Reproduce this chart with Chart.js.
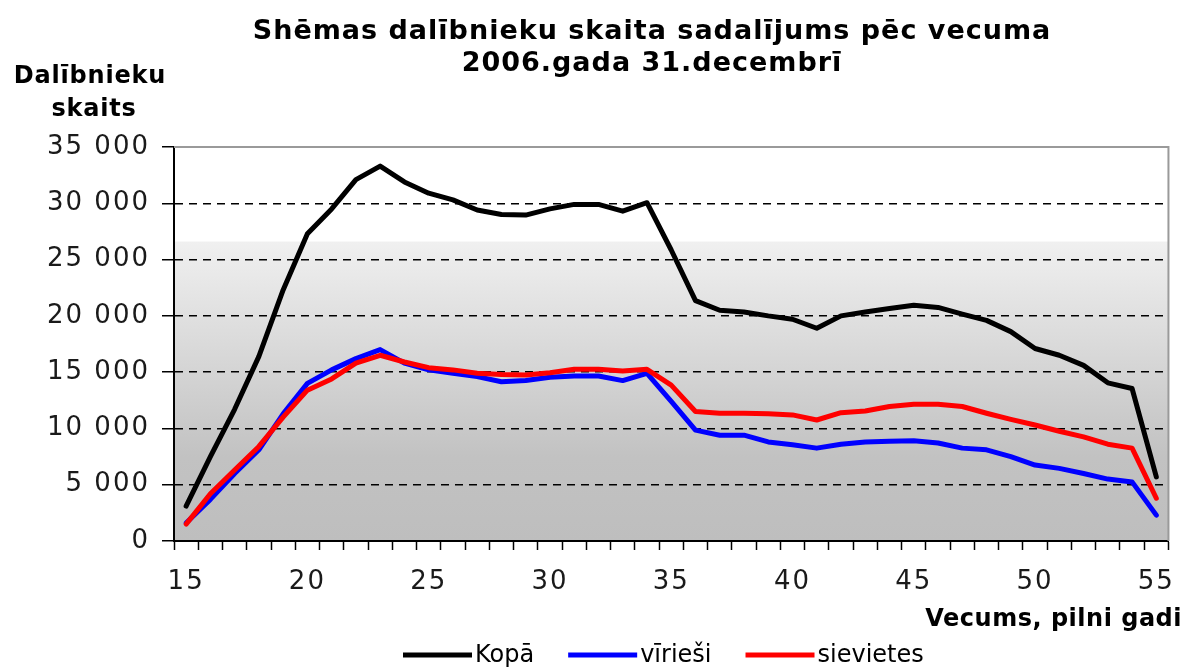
<!doctype html>
<html>
<head>
<meta charset="utf-8">
<title>Shēmas dalībnieku skaita sadalījums pēc vecuma</title>
<script src="https://cdn.jsdelivr.net/npm/chart.js@4.4.1/dist/chart.umd.min.js"></script>
<style>
  body { margin: 0; background: #fff; }
  canvas { display: block; }
</style>
</head>
<body>
<canvas id="canvas" width="1192" height="670"></canvas>
<script>
// vecums, pilni gadi
var ages = [15, 16, 17, 18, 19, 20, 21, 22, 23, 24, 25, 26, 27, 28, 29, 30, 31, 32, 33, 34, 35,
            36, 37, 38, 39, 40, 41, 42, 43, 44, 45, 46, 47, 48, 49, 50, 51, 52, 53, 54, 55];
var kopa = [3100, 7500, 11700, 16400, 22300, 27300, 29500, 32100, 33300, 31900, 30900, 30300, 29400, 29000,
            28950, 29500, 29900, 29900, 29300, 30050, 25850, 21350, 20500, 20350, 20000, 19700, 18900,
            20000, 20350, 20650, 20950, 20750, 20150, 19600, 18600, 17100, 16500, 15600, 14050, 13550, 5700];
var virziesi = [1600, 3700, 6000, 8100, 11300, 14000, 15200, 16200, 17000, 15800, 15200, 14900, 14600, 14150,
            14250, 14550, 14650, 14650, 14250, 14900, 12400, 9850, 9400, 9400, 8800, 8550, 8250,
            8600, 8800, 8850, 8900, 8700, 8250, 8100, 7500, 6750, 6450, 6000, 5500, 5250, 2300];
var sievietes = [1500, 4200, 6300, 8400, 11000, 13400, 14400, 15800, 16500, 15900, 15400, 15200, 14900, 14800,
            14750, 14950, 15250, 15250, 15100, 15250, 13850, 11500, 11350, 11350, 11300, 11200, 10750,
            11400, 11550, 11950, 12150, 12150, 11950, 11350, 10800, 10300, 9750, 9250, 8600, 8250, 3800];
var seriesNames = ['Kopā', 'vīrieši', 'sievietes'];
var seriesColors = ['#000000', '#0000ff', '#ff0000'];
var yMax = 35000;
var yStep = 5000;

var titleLines = ['Shēmas dalībnieku skaita sadalījums pēc vecuma', '2006.gada 31.decembrī'];
var yTitle = ['Dalībnieku', 'skaits'];
var xTitle = 'Vecums, pilni gadi';

var FONT = '"DejaVu Sans", sans-serif';

function fmt(v) {
  return String(v).replace(/\B(?=(\d{3})+(?!\d))/g, ' ');
}

// pelēkais fons zīmējuma laukumā + rāmis augšā un pa labi
var backgroundPlugin = {
  id: 'bg',
  beforeUpdate: function(chart) { chart.ctx.letterSpacing = '2px'; },
  beforeDraw: function(chart) {
    var c = chart.ctx, a = chart.chartArea;
    c.letterSpacing = '2px';
    c.save();
    var y0 = a.top + (a.bottom - a.top) * 0.24;
    c.fillStyle = '#ffffff';
    c.fillRect(a.left, a.top, a.right - a.left, y0 - a.top);
    var g = c.createLinearGradient(0, y0, 0, a.bottom);
    g.addColorStop(0, '#f0f0f0');
    g.addColorStop(0.72, '#c2c2c2');
    g.addColorStop(1, '#bebebe');
    c.fillStyle = g;
    c.fillRect(a.left, y0, a.right - a.left, a.bottom - y0);
    c.restore();
  },
  beforeDatasetsDraw: function(chart) {
    var c = chart.ctx, a = chart.chartArea;
    c.save();
    c.strokeStyle = '#9a9a9a';
    c.lineWidth = 2;
    c.beginPath();
    c.moveTo(a.left, a.top);
    c.lineTo(a.right, a.top);
    c.lineTo(a.right, a.bottom);
    c.stroke();
    c.restore();
  }
};

// virsraksti, asu nosaukumi un leģenda
var textPlugin = {
  id: 'texts',
  afterDraw: function(chart) {
    var c = chart.ctx;
    c.save();
    c.fillStyle = '#000';
    c.textBaseline = 'middle';

    c.font = 'bold 27px ' + FONT;
    c.letterSpacing = '1px';
    c.textAlign = 'center';
    c.fillText(titleLines[0], 652, 32);
    c.fillText(titleLines[1], 652, 64);

    c.font = 'bold 24px ' + FONT;
    c.letterSpacing = '0.8px';
    c.fillText(yTitle[0], 90, 77);
    c.fillText(yTitle[1], 94, 110);

    c.letterSpacing = '0.5px';
    c.textAlign = 'right';
    c.fillText(xTitle, 1182, 620);

    c.font = '24px ' + FONT;
    c.letterSpacing = '0px';
    c.textAlign = 'left';
    var x = 403, y = 655;
    for (var i = 0; i < seriesNames.length; i++) {
      c.fillStyle = seriesColors[i];
      c.fillRect(x, y - 2.5, 69, 5);
      c.fillStyle = '#000';
      c.fillText(seriesNames[i], x + 72, y + 1);
      x += 72 + c.measureText(seriesNames[i]).width + 34;
    }
    c.restore();
  }
};

var ctx = document.getElementById('canvas').getContext('2d');
var chart = new Chart(ctx, {
  type: 'line',
  data: {
    labels: ages,
    datasets: [
      { label: seriesNames[0], data: kopa, borderColor: seriesColors[0], backgroundColor: seriesColors[0], order: 0 },
      { label: seriesNames[1], data: virziesi, borderColor: seriesColors[1], backgroundColor: seriesColors[1], order: 2 },
      { label: seriesNames[2], data: sievietes, borderColor: seriesColors[2], backgroundColor: seriesColors[2], order: 1 }
    ]
  },
  options: {
    responsive: false,
    animation: false,
    layout: { padding: { left: 0, right: 11, top: 147, bottom: 0 } },
    elements: {
      point: { radius: 0 },
      line: { borderWidth: 5, tension: 0, borderJoinStyle: 'round', borderCapStyle: 'round' }
    },
    plugins: {
      legend: { display: false },
      title: { display: false },
      tooltip: { enabled: false }
    },
    scales: {
      x: {
        type: 'category',
        offset: true,
        grid: { offset: true, drawOnChartArea: false, tickLength: 9, tickColor: '#000', tickWidth: 1.5 },
        border: { color: '#000', width: 2 },
        ticks: {
          autoSkip: false, maxRotation: 0, padding: 17, color: '#1a1a1a',
          font: { family: FONT, size: 26 },
          callback: function(v, i) { return ages[i] % 5 === 0 ? String(ages[i]) : ''; }
        },
        afterFit: function(s) { s.height = 129; }
      },
      y: {
        min: 0, max: yMax,
        grid: {
          color: function(c) { return (c.tick.value === 0 || c.tick.value === yMax) ? 'rgba(0,0,0,0)' : '#000'; },
          lineWidth: 1.5, tickLength: 12, tickColor: '#000', tickWidth: 1.5, tickBorderDash: []
        },
        border: { color: '#000', width: 2, dash: [8, 6] },
        ticks: {
          stepSize: yStep, padding: 12, color: '#1a1a1a',
          font: { family: FONT, size: 26 },
          callback: function(v) { return fmt(v); }
        },
        afterFit: function(s) { s.width = 174; }
      }
    }
  },
  plugins: [backgroundPlugin, textPlugin]
});
</script>
</body>
</html>
